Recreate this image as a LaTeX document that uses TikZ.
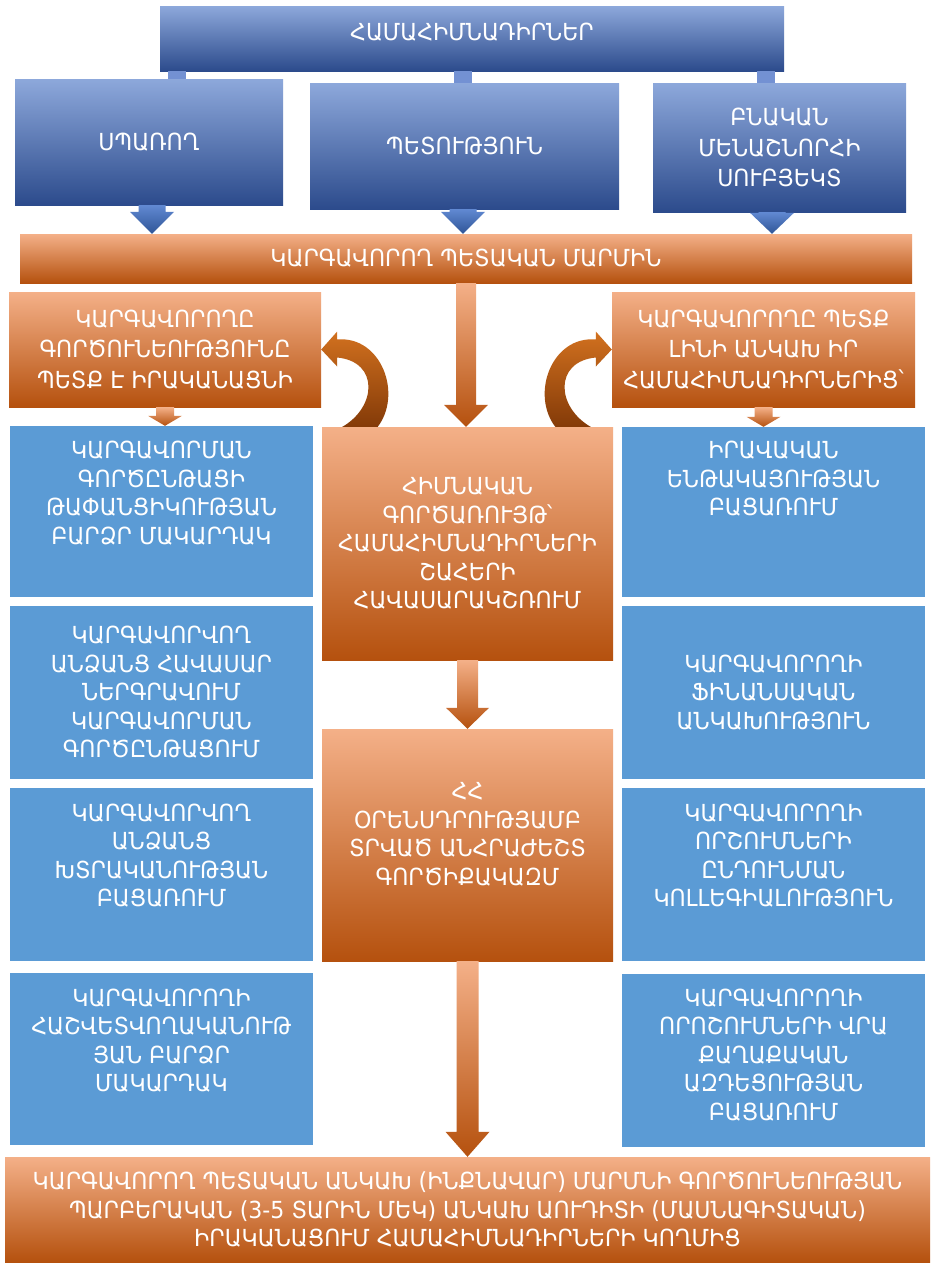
\documentclass[tikz,border=0pt]{standalone}
\usepackage{fontspec}
\usepackage{xcolor}
\usepackage{tikz}
\usetikzlibrary{calc}
\usetikzlibrary{positioning}
\setmainfont{DejaVu Sans}[FakeStretch=0.94]

\definecolor{hdrtop}{HTML}{8DA8DB}
\definecolor{hdrmid}{HTML}{5478C3}
\definecolor{hdrbot}{HTML}{2C4B8C}
\definecolor{stubblue}{HTML}{7391D3}
\definecolor{flatblue}{HTML}{5B9BD5}
\definecolor{ortop}{HTML}{F4B088}
\definecolor{ormid}{HTML}{ED7D31}
\definecolor{orbot}{HTML}{B5510E}
\definecolor{bluearrtop}{HTML}{6189D2}
\definecolor{bluearrbot}{HTML}{2F5597}
\definecolor{curvetop}{HTML}{D2711F}
\definecolor{curvebot}{HTML}{833A08}

\newcommand{\dnarrow}[6]{%
  \path[#1] let \p1=(#2), \p2=(#3) in
    (\x1-#4,\y1) -- (\x1+#4,\y1) -- (\x1+#4,\y2+#6) -- (\x1+#5,\y2+#6)
    -- (\x1,\y2) -- (\x1-#5,\y2+#6) -- (\x1-#4,\y2+#6) -- cycle;
}

\begin{document}
\begin{tikzpicture}[x=1pt,y=-1pt,
  hdrbox/.style={rectangle,inner sep=0pt,top color=hdrtop,middle color=hdrmid,bottom color=hdrbot},
  orbox/.style={rectangle,inner sep=0pt,top color=ortop,middle color=ormid,bottom color=orbot},
  flatbox/.style={rectangle,inner sep=0pt,fill=flatblue},
  txt/.style={text=white,align=center,inner sep=0pt,font=\fontsize{23.5}{28.5}\selectfont},
  wide/.style={font=\fontsize{23.5}{30.5}\selectfont},
  bluetip/.style={top color=bluearrtop,bottom color=bluearrbot},
  orangetip/.style={top color=ortop,middle color=ormid,bottom color=orbot},
  curvy/.style={top color=curvetop,bottom color=curvebot},
  stubfill/.style={fill=stubblue}]
	\fill[white] (0,0) rectangle (933,1264);
	\useasboundingbox (0,0) rectangle (933,1264);

	\node[hdrbox,minimum width=624pt,minimum height=65pt] (top) at (472,38.5) {};
	\node[txt] (top-t) at ($(top)+(0,-6.5)$) {ՀԱՄԱՀԻՄՆԱԴԻՐՆԵՐ};

	\node[hdrbox,txt,minimum width=268pt,minimum height=126pt] (sp) at (149,142) {ՍՊԱՌՈՂ};
	\node[hdrbox,txt,minimum width=309pt,minimum height=126pt] (pet) at (464.5,146) {ՊԵՏՈՒԹՅՈՒՆ};
	\node[hdrbox,txt,wide,minimum width=253pt,minimum height=129pt] (bnak) at (779.5,147.5) {ԲՆԱԿԱՆ\\ՄԵՆԱՇՆՈՐՀԻ\\ՍՈՒԲՅԵԿՏ};

	\path[stubfill] let \p1=(top.south), \p2=(sp.north) in (168pt,\y1) rectangle (186pt,\y2);
	\path[stubfill] let \p1=(top.south), \p2=(pet.north) in (454pt,\y1) rectangle (472pt,\y2);
	\path[stubfill] let \p1=(top.south), \p2=(bnak.north) in (757pt,\y1) rectangle (775pt,\y2);

	\node[orbox,txt,minimum width=892pt,minimum height=49pt] (bar) at (466,258.5) {ԿԱՐԳԱՎՈՐՈՂ ՊԵՏԱԿԱՆ ՄԱՐՄԻՆ};

	\coordinate (sp-out) at ($(sp.south)+(3,0)$);
	\coordinate (pet-out) at ($(pet.south)+(-1.5,0)$);
	\coordinate (bnak-out) at ($(bnak.south)+(-7.5,0)$);
	\dnarrow{bluetip}{sp-out}{bar.north}{13.5pt}{22pt}{22pt}
	\dnarrow{bluetip}{pet-out}{bar.north}{13.5pt}{22pt}{22pt}
	\dnarrow{bluetip}{bnak-out}{bar.north}{13.5pt}{22pt}{21pt}

	\node[orbox,txt,wide,minimum width=312pt,minimum height=115pt] (lo) at (165,349.5) {ԿԱՐԳԱՎՈՐՈՂԸ\\ԳՈՐԾՈՒՆԵՈՒԹՅՈՒՆԸ\\ՊԵՏՔ Է ԻՐԱԿԱՆԱՑՆԻ};
	\node[orbox,txt,wide,minimum width=303pt,minimum height=115pt] (ro) at (763.5,349.5) {ԿԱՐԳԱՎՈՐՈՂԸ ՊԵՏՔ\\ԼԻՆԻ ԱՆԿԱԽ ԻՐ\\ՀԱՄԱՀԻՄՆԱԴԻՐՆԵՐԻՑ՝};

	\begin{scope}[shift={(lo.east)}]
		\path[curvy] (0,0) -- (16,-18) -- (16,-10) .. controls (60,-14) and (82,45) .. (56,78)
			-- (20,78) .. controls (56,58) and (58,12) .. (16,8) -- (16,17) -- cycle;
	\end{scope}
	\begin{scope}[shift={(ro.west)},xscale=-1]
		\path[curvy] (0,0) -- (16,-18) -- (16,-10) .. controls (60,-14) and (82,45) .. (56,78)
			-- (20,78) .. controls (56,58) and (58,12) .. (16,8) -- (16,17) -- cycle;
	\end{scope}

	\node[flatbox,minimum width=303pt,minimum height=171pt] (l1) at (161.5,511.5) {};
	\node[txt,below=15.5pt of l1.north] (l1-t) {ԿԱՐԳԱՎՈՐՄԱՆ\\ԳՈՐԾԸՆԹԱՑԻ\\ԹԱՓԱՆՑԻԿՈՒԹՅԱՆ\\ԲԱՐՁՐ ՄԱԿԱՐԴԱԿ};
	\node[flatbox,txt,minimum width=303pt,minimum height=173pt] (l2) at (161.5,692.5) {ԿԱՐԳԱՎՈՐՎՈՂ\\ԱՆՁԱՆՑ ՀԱՎԱՍԱՐ\\ՆԵՐԳՐԱՎՈՒՄ\\ԿԱՐԳԱՎՈՐՄԱՆ\\ԳՈՐԾԸՆԹԱՑՈՒՄ};
	\node[flatbox,minimum width=303pt,minimum height=173pt] (l3) at (161.5,874.5) {};
	\node[txt,below=16pt of l3.north] (l3-t) {ԿԱՐԳԱՎՈՐՎՈՂ\\ԱՆՁԱՆՑ\\ԽՏՐԱԿԱՆՈՒԹՅԱՆ\\ԲԱՑԱՌՈՒՄ};
	\node[flatbox,minimum width=303pt,minimum height=172pt] (l4) at (161.5,1059) {};
	\node[txt,below=16pt of l4.north] (l4-t) {ԿԱՐԳԱՎՈՐՈՂԻ\\ՀԱՇՎԵՏՎՈՂԱԿԱՆՈՒԹ\\ՅԱՆ ԲԱՐՁՐ\\ՄԱԿԱՐԴԱԿ};

	\node[flatbox,minimum width=303pt,minimum height=170pt] (r1) at (773.5,512) {};
	\node[txt,below=14.5pt of r1.north] (r1-t) {ԻՐԱՎԱԿԱՆ\\ԵՆԹԱԿԱՅՈՒԹՅԱՆ\\ԲԱՑԱՌՈՒՄ};
	\node[flatbox,txt,minimum width=303pt,minimum height=173pt] (r2) at (773.5,692.5) {ԿԱՐԳԱՎՈՐՈՂԻ\\ՖԻՆԱՆՍԱԿԱՆ\\ԱՆԿԱԽՈՒԹՅՈՒՆ};
	\node[flatbox,minimum width=303pt,minimum height=173pt] (r3) at (773.5,874.5) {};
	\node[txt,below=16pt of r3.north] (r3-t) {ԿԱՐԳԱՎՈՐՈՂԻ\\ՈՐՇՈՒՄՆԵՐԻ\\ԸՆԴՈՒՆՄԱՆ\\ԿՈԼԼԵԳԻԱԼՈՒԹՅՈՒՆ};
	\node[flatbox,minimum width=303pt,minimum height=173pt] (r4) at (773.5,1060.5) {};
	\node[txt,below=15pt of r4.north] (r4-t) {ԿԱՐԳԱՎՈՐՈՂԻ\\ՈՐՈՇՈՒՄՆԵՐԻ ՎՐԱ\\ՔԱՂԱՔԱԿԱՆ\\ԱԶԴԵՑՈՒԹՅԱՆ\\ԲԱՑԱՌՈՒՄ};

	\node[orbox,txt,minimum width=291pt,minimum height=233pt] (c1) at (467.5,543.5) {ՀԻՄՆԱԿԱՆ\\ԳՈՐԾԱՌՈՒՅԹ՝\\ՀԱՄԱՀԻՄՆԱԴԻՐՆԵՐԻ\\ՇԱՀԵՐԻ\\ՀԱՎԱՍԱՐԱԿՇՌՈՒՄ};
	\node[orbox,minimum width=291pt,minimum height=232pt] (c2) at (467.5,845) {};
	\node[txt] (c2-t) at ($(c2)+(0,-10.5)$) {ՀՀ\\ՕՐԵՆՍԴՐՈՒԹՅԱՄԲ\\ՏՐՎԱԾ ԱՆՀՐԱԺԵՇՏ\\ԳՈՐԾԻՔԱԿԱԶՄ};

	\node[orbox,txt,minimum width=925pt,minimum height=105pt] (bot) at (467.5,1209.5) {ԿԱՐԳԱՎՈՐՈՂ ՊԵՏԱԿԱՆ ԱՆԿԱԽ (ԻՆՔՆԱՎԱՐ) ՄԱՐՄՆԻ ԳՈՐԾՈՒՆԵՈՒԹՅԱՆ\\ՊԱՐԲԵՐԱԿԱՆ (3-5 ՏԱՐԻՆ ՄԵԿ) ԱՆԿԱԽ ԱՈՒԴԻՏԻ (ՄԱՍՆԱԳԻՏԱԿԱՆ)\\ԻՐԱԿԱՆԱՑՈՒՄ ՀԱՄԱՀԻՄՆԱԴԻՐՆԵՐԻ ԿՈՂՄԻՑ};

	\dnarrow{orangetip}{bar.south}{c1.north}{10pt}{22pt}{22pt}
	\dnarrow{orangetip}{lo.south}{l1.north}{9pt}{17pt}{10pt}
	\dnarrow{orangetip}{ro.south}{r1.north}{9pt}{17pt}{10pt}
	\dnarrow{orangetip}{c1.south}{c2.north}{10.5pt}{21.5pt}{21pt}
	\dnarrow{orangetip}{c2.south}{bot.north}{11pt}{22pt}{25pt}
\end{tikzpicture}
\end{document}
